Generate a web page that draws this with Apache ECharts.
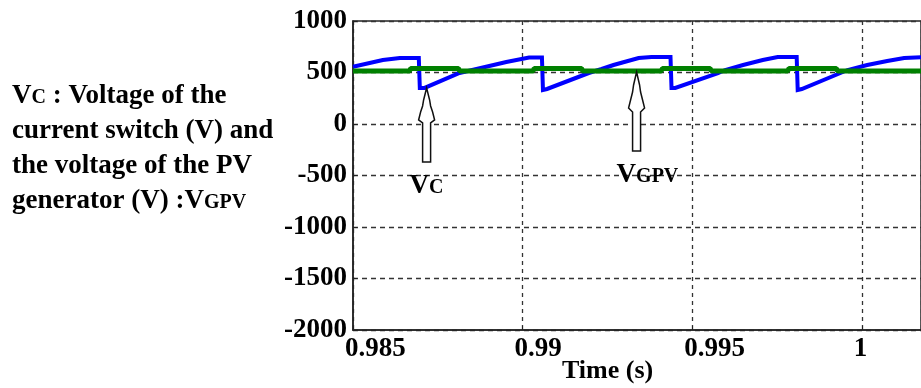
<!DOCTYPE html>
<html>
<head>
<meta charset="utf-8">
<script src="https://cdn.jsdelivr.net/npm/echarts@6/dist/echarts.min.js"></script>
<style>
    html, body { margin: 0; padding: 0; background: #fff; }
    #chart { width: 921px; height: 388px; }
</style>
</head>
<body>
<div id="chart"></div>
<script>
    // tension du commutateur VC (bleu)
    var vcTime = [0.98500, 0.98588, 0.98638, 0.98694, 0.98697, 0.98711, 0.98814, 0.98864, 0.98952, 0.99019, 0.99057,
        0.99060, 0.99072, 0.99195, 0.99233, 0.99268, 0.99342, 0.99380, 0.99436,
        0.99439, 0.99450, 0.99576, 0.99597, 0.99650, 0.99708, 0.99752, 0.99808,
        0.99811, 0.99823, 0.99937, 0.99958, 1.00016, 1.00075, 1.00125, 1.00180];
    var vcVolt = [556, 621, 641, 641, 350, 350, 495, 534, 602, 646, 646,
        330, 340, 495, 534, 573, 641, 650, 650,
        350, 350, 495, 524, 573, 621, 650, 650,
        330, 340, 495, 524, 573, 612, 641, 650];

    // tension du generateur PV VGPV (vert)
    var gpvTime = [0.98500, 0.98667, 0.98670, 0.98811, 0.98814,
        0.99031, 0.99034, 0.99174, 0.99177,
        0.99409, 0.99412, 0.99553, 0.99556,
        0.99782, 0.99785, 0.99925, 0.99928, 1.00180];
    var gpvVolt = [515, 515, 540, 540, 515,
        515, 540, 540, 515,
        515, 540, 540, 515,
        515, 540, 540, 515, 515];

    var xMin = 0.985, xMax = 1.001745, xStep = 0.005;
    var yMin = -2000, yMax = 1000, yStep = 500;

    // pointes des fleches
    var vcArrowAt = [0.98717, 350];
    var gpvArrowAt = [0.99336, 505];

    var serif = "'Liberation Serif', 'Times New Roman', serif";

    function zip(a, b) {
        var out = [];
        for (var i = 0; i < a.length; i++) {
            out.push([a[i], b[i]]);
        }
        return out;
    }

    var chart = echarts.init(document.getElementById('chart'), null, { renderer: 'canvas' });

    var option = {
        animation: false,
        backgroundColor: '#fff',
        grid: {
            left: 353,
            top: 21,
            right: -3,
            bottom: 58,
            show: true,
            borderColor: '#222',
            borderWidth: 1.5,
            containLabel: false
        },
        xAxis: {
            type: 'value',
            min: xMin,
            max: xMax,
            interval: xStep,
            axisLine: { show: true, onZero: false, lineStyle: { color: '#222', width: 1.5 } },
            axisTick: { show: true, inside: true, length: 4, lineStyle: { color: '#222' } },
            axisLabel: {
                show: true,
                showMaxLabel: false,
                align: 'left',
                padding: [0, 0, 0, -8],
                margin: 6,
                color: '#000',
                fontFamily: serif,
                fontWeight: 'bold',
                fontSize: 27,
                formatter: function(v) { return String(+v.toFixed(3)); }
            },
            splitLine: { show: true, lineStyle: { color: '#333', type: [4, 4], width: 1.3 } }
        },
        yAxis: {
            type: 'value',
            min: yMin,
            max: yMax,
            interval: yStep,
            axisLine: { show: true, lineStyle: { color: '#222', width: 1.5 } },
            axisTick: { show: true, inside: true, length: 4, lineStyle: { color: '#222' } },
            axisLabel: {
                margin: 6,
                color: '#000',
                fontFamily: serif,
                fontWeight: 'bold',
                fontSize: 27,
                formatter: function(v) { return String(v); }
            },
            splitLine: { show: true, lineStyle: { color: '#333', type: [5, 4], width: 1.3 } }
        },
        series: [
            {
                name: 'VC',
                type: 'line',
                showSymbol: false,
                symbol: 'none',
                data: zip(vcTime, vcVolt),
                lineStyle: { color: '#0000ff', width: 4, join: 'miter' },
                z: 2
            },
            {
                name: 'VGPV',
                type: 'line',
                showSymbol: false,
                symbol: 'none',
                data: zip(gpvTime, gpvVolt),
                lineStyle: { color: '#008000', width: 5 },
                z: 3
            }
        ]
    };
    chart.setOption(option);

    // fleches + textes
    var arrow1 = [[0, 0], [3, 12], [4, 18], [6, 24], [8, 32], [4, 35], [4, 74], [-4, 74], [-4, 35], [-8, 32], [-6, 24], [-4, 18], [-3, 12]];
    var arrow2 = [[0, 0], [3, 13], [4, 20], [6, 28], [8, 36], [4, 40], [4, 79], [-4, 79], [-4, 40], [-8, 36], [-6, 28], [-4, 20], [-3, 13]];

    var p1 = chart.convertToPixel({ gridIndex: 0 }, vcArrowAt);
    var p2 = chart.convertToPixel({ gridIndex: 0 }, gpvArrowAt);

    var rich = {
        n: { fontSize: 27, fontFamily: serif, fontWeight: 'bold', color: '#000', lineHeight: 35, verticalAlign: 'bottom' },
        s: { fontSize: 20, fontFamily: serif, fontWeight: 'bold', color: '#000', lineHeight: 35, verticalAlign: 'bottom', padding: [0, 0, 2, 0] }
    };

    chart.setOption({
        graphic: [
            {
                type: 'polygon',
                x: p1[0], y: p1[1],
                shape: { points: arrow1 },
                style: { fill: '#fff', stroke: '#111', lineWidth: 1.5 },
                z: 10
            },
            {
                type: 'polygon',
                x: p2[0], y: p2[1],
                shape: { points: arrow2 },
                style: { fill: '#fff', stroke: '#111', lineWidth: 1.5 },
                z: 10
            },
            {
                type: 'text',
                x: p1[0] - 17, y: p1[1] + 77,
                style: { text: '{n|V}{s|C}', rich: rich },
                z: 10
            },
            {
                type: 'text',
                x: p2[0] - 20, y: p2[1] + 82,
                style: { text: '{n|V}{s|GPV}', rich: rich },
                z: 10
            },
            {
                type: 'text',
                left: 12, top: 83,
                style: {
                    text: '{n|V}{s|C}{n| : Voltage of the}\n{n|current switch (V) and}\n{n|the voltage of the PV}\n{n|generator (V) :V}{s|GPV}',
                    rich: rich
                }
            },
            {
                type: 'text',
                left: 562, top: 358,
                style: {
                    text: 'Time (s)',
                    font: 'bold 26px ' + serif,
                    fill: '#000'
                }
            }
        ]
    });
</script>
</body>
</html>
